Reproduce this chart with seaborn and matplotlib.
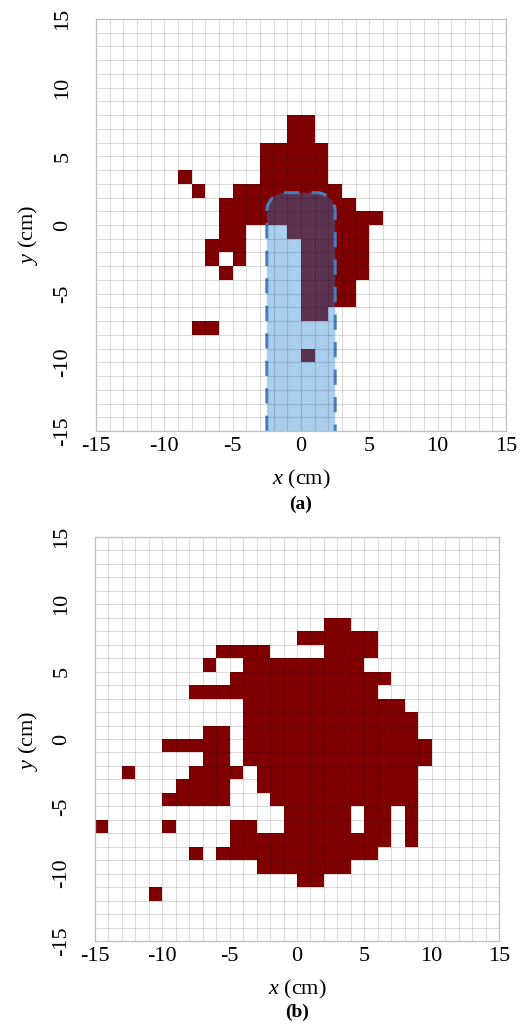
import numpy as np
import matplotlib
matplotlib.use("Agg")
import matplotlib.pyplot as plt
import seaborn as sns
from matplotlib.colors import ListedColormap
from matplotlib.patches import Polygon

# ---------------- data ----------------
AXIS_MIN, AXIS_MAX = -15, 15
TICKS = [-15, -10, -5, 0, 5, 10, 15]

# Panel (a): occupied 1x1 cm cells. For each row: the bottom edge y, and
# runs of cells given by the left edge x of the first and last cell.
A_ROW_Y = [7, 6, 5, 4, 3, 2, 1, 0, -1, -2, -3, -4, -5, -6, -7, -8, -10]
A_ROW_RUNS = [
    [(-1, 0)],
    [(-1, 0)],
    [(-3, 1)],
    [(-3, 1)],
    [(-9, -9), (-3, 1)],
    [(-8, -8), (-5, 2)],
    [(-6, 3)],
    [(-6, 5)],
    [(-6, -5), (-1, 4)],
    [(-7, -5), (0, 4)],
    [(-7, -7), (-5, -5), (0, 4)],
    [(-6, -6), (0, 4)],
    [(0, 3)],
    [(0, 3)],
    [(0, 1)],
    [(-8, -7)],
    [(0, 0)],
]

# Panel (b)
B_ROW_Y = [8, 7, 6, 5, 4, 3, 2, 1, 0, -1, -2, -3, -4, -5, -6, -7, -8, -9, -10, -11, -12]
B_ROW_RUNS = [
    [(2, 3)],
    [(0, 5)],
    [(-6, -3), (2, 5)],
    [(-7, -7), (-4, 4)],
    [(-5, 6)],
    [(-8, 5)],
    [(-4, 7)],
    [(-4, 8)],
    [(-7, -6), (-4, 8)],
    [(-10, -6), (-4, 9)],
    [(-7, -6), (-4, 9)],
    [(-13, -13), (-8, -5), (-3, 8)],
    [(-9, -6), (-3, 8)],
    [(-10, -6), (-2, 8)],
    [(-1, 3), (5, 6), (8, 8)],
    [(-15, -15), (-10, -10), (-5, -4), (-1, 3), (5, 6), (8, 8)],
    [(-5, 6), (8, 8)],
    [(-8, -8), (-6, 5)],
    [(-3, 3)],
    [(0, 1)],
    [(-11, -11)],
]

# Probe outline in panel (a): half width, top of rounded cap, corner radius (cm)
PROBE_HALF_WIDTH = 2.5
PROBE_TOP = 2.35
PROBE_CORNER = 1.35

RED = "#800000"
BLUE_FILL = (38 / 255, 133 / 255, 213 / 255, 0.39)
BLUE_EDGE = "#4A7EBB"

# ---------------- helpers ----------------
N = AXIS_MAX - AXIS_MIN


def build_matrix(row_y, row_runs):
    m = np.zeros((N, N))
    for y, runs in zip(row_y, row_runs):
        r = y - AXIS_MIN          # row 0 = bottom (y from -15 to -14)
        for x0, x1 in runs:
            m[r, x0 - AXIS_MIN:x1 - AXIS_MIN + 1] = 1
    return m


def probe_outline(half_w, top, rad, bottom=-17):
    t1 = np.linspace(np.pi, np.pi / 2, 25)
    t2 = np.linspace(np.pi / 2, 0, 25)
    left = np.column_stack([-half_w + rad + rad * np.cos(t1), top - rad + rad * np.sin(t1)])
    right = np.column_stack([half_w - rad + rad * np.cos(t2), top - rad + rad * np.sin(t2)])
    pts = np.vstack([[[-half_w, bottom]], left, right, [[half_w, bottom]]])
    return pts - AXIS_MIN     # to heatmap cell coordinates


W, H = 524, 1024
fig = plt.figure(figsize=(W / 100, H / 100), dpi=100)

plt.rcParams["font.family"] = ["Liberation Serif", "DejaVu Serif"]
plt.rcParams["mathtext.fontset"] = "custom"
plt.rcParams["mathtext.rm"] = "Liberation Serif"
plt.rcParams["mathtext.it"] = "Liberation Serif:italic"


def px_axes(left, right, top, bottom):
    return fig.add_axes([left / W, 1 - bottom / H, (right - left) / W, (bottom - top) / H])


def draw_panel(ax, matrix):
    sns.heatmap(matrix, cmap=ListedColormap(["white", RED]), vmin=0, vmax=1,
                cbar=False, ax=ax, xticklabels=False, yticklabels=False)
    ax.set_ylim(0, N)
    ax.set_xlim(0, N)


def finish_panel(ax):
    pos = np.arange(1, N)
    ax.vlines(pos, 0, N, colors="black", alpha=0.14, lw=0.8, zorder=5)
    ax.hlines(pos, 0, N, colors="black", alpha=0.14, lw=0.8, zorder=5)
    for s in ax.spines.values():
        s.set_visible(True)
        s.set_color("#BFBFBF")
        s.set_linewidth(0.9)
        s.set_zorder(6)
    tpos = [t - AXIS_MIN for t in TICKS]
    ax.set_xticks(tpos)
    ax.set_xticklabels([str(t) for t in TICKS], fontsize=16)
    ax.set_yticks(tpos)
    ax.set_yticklabels([str(t) for t in TICKS], fontsize=16, rotation=90,
                       va="center", ha="right")
    ax.tick_params(axis="x", length=0, pad=4)
    ax.tick_params(axis="y", length=0, pad=17)


# ---------------- panel (a) ----------------
axa = px_axes(96, 506, 19, 431)
draw_panel(axa, build_matrix(A_ROW_Y, A_ROW_RUNS))
probe = Polygon(probe_outline(PROBE_HALF_WIDTH, PROBE_TOP, PROBE_CORNER), closed=True,
                facecolor=BLUE_FILL, edgecolor=BLUE_EDGE, lw=2.2,
                linestyle=(0, (5.0, 4.0)), joinstyle="round", zorder=4)
axa.add_patch(probe)
finish_panel(axa)

# ---------------- panel (b) ----------------
axb = px_axes(95, 499, 537, 941)
draw_panel(axb, build_matrix(B_ROW_Y, B_ROW_RUNS))
finish_panel(axb)

# ---------------- labels ----------------
def ftext(x, y, s, **kw):
    fig.text(x / W, 1 - y / H, s, ha="center", va="center", **kw)


ftext(301, 479, r"$x$ (cm)", fontsize=16)
ftext(301, 504, "(a)", fontsize=14, fontweight="bold")
ftext(28, 235, r"$y$ (cm)", fontsize=16, rotation=90)

ftext(297, 989, r"$x$ (cm)", fontsize=16)
ftext(297, 1012, "(b)", fontsize=14, fontweight="bold")
ftext(28, 741, r"$y$ (cm)", fontsize=16, rotation=90)

fig.savefig("out.png", dpi=100, facecolor="white")
